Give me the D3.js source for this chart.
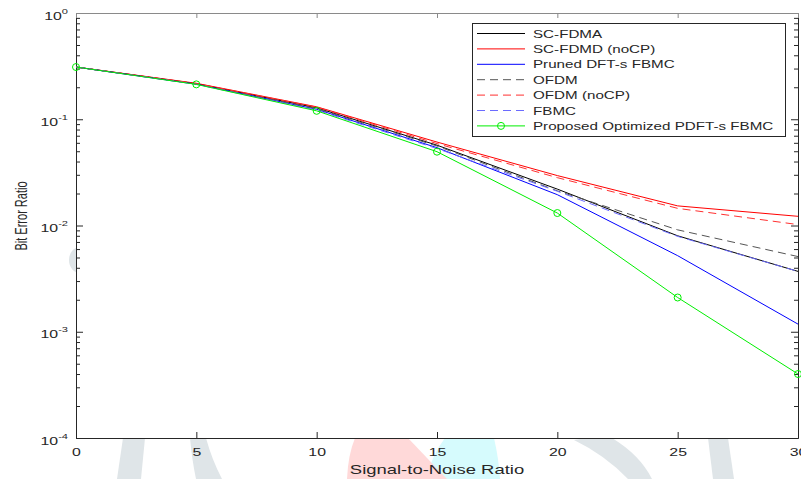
<!DOCTYPE html>
<meta charset="utf-8">
<script src="https://cdn.jsdelivr.net/npm/d3@7"></script>
<style>
body{margin: 0; background: #fff;}
text{font-family: "Liberation Sans", Arial, sans-serif; fill: #262626;}
</style>
<div id="vis"></div>
<script>

// SNR points (dB) and bit error ratios
var snr = [0, 5, 10, 15, 20, 25, 30];
var scFdma     = [0.31, 0.216, 0.128, 0.057, 0.0220, 0.0080, 0.0037];
var scFdmdNoCP = [0.31, 0.218, 0.131, 0.061, 0.0295, 0.0153, 0.0122];
var prunedDft  = [0.31, 0.214, 0.124, 0.054, 0.0195, 0.0052, 0.00118];
var ofdm       = [0.31, 0.215, 0.126, 0.056, 0.0212, 0.0091, 0.0051];
var ofdmNoCP   = [0.31, 0.217, 0.130, 0.059, 0.0282, 0.0145, 0.0102];
var fbmc       = [0.31, 0.213, 0.122, 0.053, 0.0210, 0.0079, 0.0037];
var proposed   = [0.31, 0.213, 0.120, 0.0495, 0.0131, 0.0021, 0.0004];

var xTicks = [0, 5, 10, 15, 20, 25, 30];
var yTicks = [1e-4, 1e-3, 1e-2, 1e-1, 1];
var yExp   = ["-4", "-3", "-2", "-1", "0"];

var series = [
  {name: "SC-FDMA",             values: scFdma,     color: "#000000", dash: null},
  {name: "SC-FDMD (noCP)",      values: scFdmdNoCP, color: "#ff0000", dash: null},
  {name: "Pruned DFT-s FBMC",   values: prunedDft,  color: "#0000ff", dash: null},
  {name: "OFDM",                values: ofdm,       color: "#555555", dash: "8,5"},
  {name: "OFDM (noCP)",         values: ofdmNoCP,   color: "#ff3030", dash: "8,5"},
  {name: "FBMC",                values: fbmc,       color: "#6b6bff", dash: "8,5"},
  {name: "Proposed Optimized PDFT-s FBMC", values: proposed, color: "#00ee00", dash: null, marker: true}
];

var w = 801, h = 479;
var sx = 1.38;   // the picture is stretched sideways

var svg = d3.select("#vis").append("svg")
    .attr("width", w).attr("height", h);

// faint watermark behind the axes
var wm = svg.append("g");
wm.append("path").attr("fill", "#dfe5e8")
  .attr("d", "M123,438 L145,438 L141,479 L117,479 Z");
wm.append("path").attr("fill", "#dfe5e8")
  .attr("d", "M190,438 L206,438 Q212,460 222,479 L196,479 Q192,460 190,438 Z");
wm.append("path").attr("fill", "#dfe5e8")
  .attr("d", "M574,440 Q600,436 612,438 Q640,455 652,479 L628,479 Q605,455 574,440 Z");
wm.append("path").attr("fill", "#dfe5e8")
  .attr("d", "M708,438 L728,438 L734,479 L713,479 Z");
wm.append("ellipse").attr("fill", "#dfe5e8")
  .attr("cx", 80).attr("cy", 260).attr("rx", 11).attr("ry", 13);
wm.append("path").attr("fill", "#d6fbfd")
  .attr("d", "M445,438 L494,438 Q499,460 500,479 L426,479 Q432,455 445,438 Z");
wm.append("path").attr("fill", "#ffd9d9")
  .attr("d", "M355,438 L408,438 L447,479 L347,479 Q348,455 355,438 Z");

var x = d3.scaleLinear().domain([0, 30]).range([76, 798]);
var y = d3.scaleLog().domain([1e-4, 1]).range([438, 13]);

// plot area
svg.append("rect")
  .attr("x", x(0)).attr("y", y(1))
  .attr("width", x(30) - x(0)).attr("height", y(1e-4) - y(1))
  .attr("fill", "#fff");

// minor log ticks
var minor = [];
[1e-4, 1e-3, 1e-2, 1e-1].forEach(function(d) {
  for (var k = 2; k < 10; k++) minor.push(d * k);
});

function styleAxis(g, col) {
  g.select(".domain").attr("stroke", col);
  g.selectAll(".tick line").attr("stroke", col);
}

svg.append("g").attr("transform", "translate(" + x(0) + ",0)")
  .call(d3.axisLeft(y).tickValues(minor).tickSize(-4).tickSizeOuter(0).tickFormat(""))
  .call(styleAxis, "#262626");
svg.append("g").attr("transform", "translate(" + x(30) + ",0)")
  .call(d3.axisRight(y).tickValues(minor).tickSize(-4).tickSizeOuter(0).tickFormat(""))
  .call(styleAxis, "#262626");

var yAxis = svg.append("g").attr("transform", "translate(" + x(0) + ",0)")
  .call(d3.axisLeft(y).tickValues(yTicks).tickSize(-7).tickSizeOuter(0).tickFormat(""))
  .call(styleAxis, "#262626");
svg.append("g").attr("transform", "translate(" + x(30) + ",0)")
  .call(d3.axisRight(y).tickValues(yTicks).tickSize(-7).tickSizeOuter(0).tickFormat(""))
  .call(styleAxis, "#262626");

yAxis.selectAll(".tick").each(function(d, i) {
  var t = d3.select(this).append("text")
    .attr("transform", "translate(-8,6) scale(" + sx + ",1)")
    .attr("text-anchor", "end")
    .attr("font-size", 11.5)
    .attr("fill", "#262626");
  t.append("tspan").text("10");
  t.append("tspan").attr("dy", -6).attr("font-size", 8).text(yExp[yTicks.indexOf(d)]);
});

var xAxis = svg.append("g").attr("transform", "translate(0," + y(1e-4) + ")")
  .call(d3.axisBottom(x).tickValues(xTicks).tickSize(-6).tickSizeOuter(0))
  .call(styleAxis, "#262626");
xAxis.selectAll(".tick text")
  .attr("y", 18).attr("dy", null)
  .attr("transform", "scale(" + sx + ",1)")
  .attr("font-size", 11.5).attr("fill", "#262626")
  .style("font-family", "'Liberation Sans', Arial, sans-serif");

svg.append("g").attr("transform", "translate(0," + y(1) + ")")
  .call(d3.axisTop(x).tickValues(xTicks).tickSize(-5).tickSizeOuter(0).tickFormat(""))
  .call(styleAxis, "#8a8a8a");

// axis titles
svg.append("text")
  .attr("transform", "translate(437,474) scale(1.42,1)")
  .attr("text-anchor", "middle")
  .attr("font-size", 13)
  .text("Signal-to-Noise Ratio");

svg.append("text")
  .attr("transform", "translate(27,216) scale(1.5,1) rotate(-90)")
  .attr("text-anchor", "middle")
  .attr("font-size", 11)
  .text("Bit Error Ratio");

// curves
var line = d3.line()
  .x(function(d, i) { return x(snr[i]); })
  .y(function(d) { return y(d); });

var plot = svg.append("g");
series.forEach(function(s) {
  plot.append("path")
    .attr("d", line(s.values))
    .attr("fill", "none")
    .attr("stroke", s.color)
    .attr("stroke-width", 1)
    .attr("stroke-dasharray", s.dash);
  if (s.marker) {
    plot.selectAll(null).data(s.values).enter().append("circle")
      .attr("cx", function(d, i) { return x(snr[i]); })
      .attr("cy", function(d) { return y(d); })
      .attr("r", 3.5)
      .attr("fill", "none")
      .attr("stroke", s.color);
  }
});

// legend
var lg = svg.append("g").attr("transform", "translate(472,23)");
lg.append("rect")
  .attr("x", 0.5).attr("y", 0.5)
  .attr("width", 313).attr("height", 113)
  .attr("fill", "#fff").attr("stroke", "#262626").attr("stroke-width", 1);

var row = lg.selectAll(".row").data(series).enter().append("g")
  .attr("class", "row")
  .attr("transform", function(d, i) { return "translate(0," + (10.5 + i * 15.4) + ")"; });
row.append("line")
  .attr("x1", 5).attr("x2", 53)
  .attr("stroke", function(d) { return d.color; })
  .attr("stroke-dasharray", function(d) { return d.dash; });
row.filter(function(d) { return d.marker; }).append("circle")
  .attr("cx", 29).attr("r", 3.5)
  .attr("fill", "none").attr("stroke", function(d) { return d.color; });
row.append("text")
  .attr("transform", "translate(61,4) scale(" + sx + ",1)")
  .attr("font-size", 11)
  .text(function(d) { return d.name; });

</script>
